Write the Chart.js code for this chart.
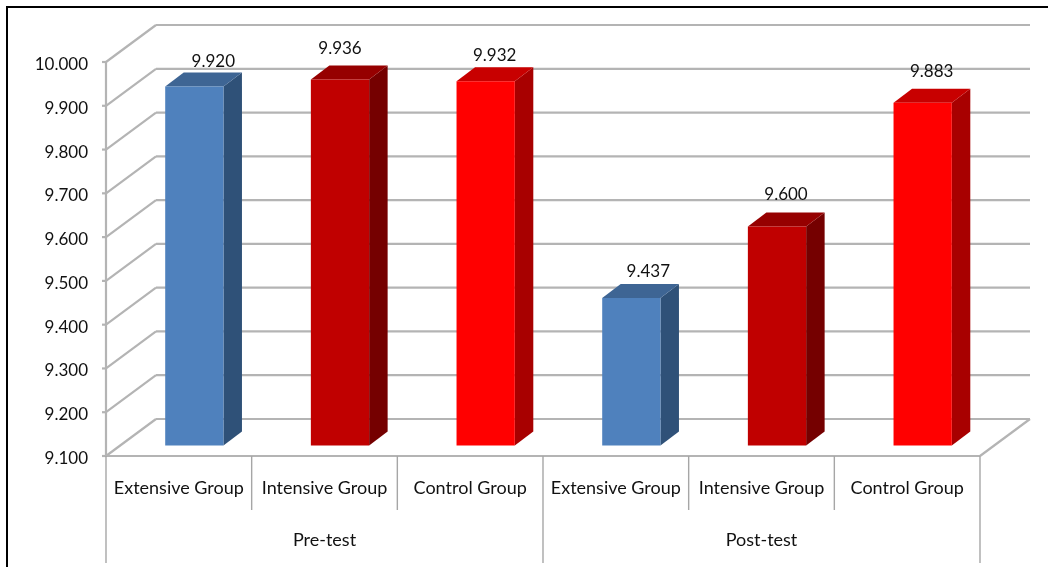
<!DOCTYPE html>
<html>
<head>
<meta charset="utf-8">
<title>Pre-test and post-test scores</title>
<script src="https://cdn.jsdelivr.net/npm/chart.js@4"></script>
<style>
  html, body { margin: 0; background: #fff; }
  canvas { display: block; }
</style>
</head>
<body>
<canvas id="scoreChart" width="1048" height="567"></canvas>
<script>
var categories = ["Extensive Group", "Intensive Group", "Control Group", "Extensive Group", "Intensive Group", "Control Group"];
var groups = ["Pre-test", "Post-test"];
var scores = [9.920, 9.936, 9.932, 9.437, 9.600, 9.883];
var axisMin = 9.1;
var axisMax = 10;

var frontColors = ["#4f81bd", "#c00000", "#ff0000", "#4f81bd", "#c00000", "#ff0000"];
var topColors = ["#3e6594", "#960000", "#c80000", "#3e6594", "#960000", "#c80000"];
var sideColors = ["#2f5178", "#750000", "#a80000", "#2f5178", "#750000", "#a80000"];

// nudges for the value labels, measured from the bar's top centre
var labelDx = [19, 0, 9, 17, 9, 9];
var labelDy = [-25, -31, -26, -26, -32, -31];

var textFont = { family: "Lato", size: 17 };
var axisFont = { family: "Lato", size: 18 };
var lineGrey = "#b4b4b4";
var wallDepth = { x: 50, y: -37 };   // back wall relative to the front plane
var barShift = { x: 15.5, y: -10.5 };  // bars stand part way into the floor
var barDepth = { x: 18.5, y: -14 };

function poly(ctx, pts, fill) {
  ctx.beginPath();
  ctx.moveTo(pts[0][0], pts[0][1]);
  for (var i = 1; i < pts.length; i++) ctx.lineTo(pts[i][0], pts[i][1]);
  ctx.closePath();
  ctx.fillStyle = fill;
  ctx.fill();
}

function segment(ctx, x1, y1, x2, y2) {
  ctx.beginPath();
  ctx.moveTo(x1, y1);
  ctx.lineTo(x2, y2);
  ctx.stroke();
}

var box3d = {
  id: "box3d",
  // frame, walls, floor and the axis separators
  beforeDatasetsDraw: function (chart) {
    var ctx = chart.ctx, area = chart.chartArea;
    var xs = chart.scales.x, ys = chart.scales.y;

    ctx.save();
    ctx.fillStyle = "#000";
    ctx.fillRect(6, 6, chart.width - 6, 2);
    ctx.fillRect(6, 6, 2, chart.height - 6);

    ctx.strokeStyle = lineGrey;
    ctx.lineWidth = 2.2;
    ys.ticks.forEach(function (t) {
      var y = ys.getPixelForValue(t.value);
      segment(ctx, area.left - 4, y, area.left, y);
      segment(ctx, area.left, y, area.left + wallDepth.x, y + wallDepth.y);
      segment(ctx, area.left + wallDepth.x, y + wallDepth.y, area.right + wallDepth.x, y + wallDepth.y);
    });
    segment(ctx, area.left, area.top, area.left, area.bottom);
    segment(ctx, area.left, area.bottom, area.right, area.bottom);
    segment(ctx, area.right, area.bottom, area.right + wallDepth.x, area.bottom + wallDepth.y);

    // separators below the floor: short ones per category, long ones per group
    ctx.strokeStyle = "#a6a6a6";
    ctx.lineWidth = 1.4;
    for (var i = 0; i <= categories.length; i++) {
      var x = i < categories.length ? xs.getPixelForValue(i) - xs.width / categories.length / 2 : area.right;
      var long = i % 3 === 0;
      segment(ctx, x, area.bottom, x, long ? area.bottom + 107 : area.bottom + 54);
    }
    ctx.restore();
  },
  // top and side faces go under the front face the library draws
  beforeDatasetDraw: function (chart, args) {
    var ctx = chart.ctx;
    ctx.save();
    ctx.translate(barShift.x, barShift.y);
    args.meta.data.forEach(function (bar, i) {
      var l = bar.x - bar.width / 2, r = bar.x + bar.width / 2;
      var dx = barDepth.x, dy = barDepth.y;
      poly(ctx, [[r, bar.y], [r + dx, bar.y + dy], [r + dx, bar.base + dy], [r, bar.base]], sideColors[i]);
      poly(ctx, [[l, bar.y], [l + dx, bar.y + dy], [r + dx, bar.y + dy], [r, bar.y]], topColors[i]);
    });
  },
  afterDatasetDraw: function (chart, args) {
    var ctx = chart.ctx;
    ctx.restore();
    ctx.save();
    ctx.fillStyle = "#111";
    ctx.font = textFont.size + "px " + textFont.family;
    ctx.textAlign = "center";
    ctx.textBaseline = "middle";
    args.meta.data.forEach(function (bar, i) {
      ctx.fillText(scores[i].toFixed(3), bar.x + barShift.x + labelDx[i], bar.y + barShift.y + labelDy[i]);
    });
    ctx.restore();
  }
};

new Chart("scoreChart", {
  type: "bar",
  data: {
    labels: categories,
    datasets: [{
      data: scores,
      base: axisMin,
      backgroundColor: frontColors,
      barPercentage: 0.4,
      categoryPercentage: 1,
      clip: false
    }]
  },
  options: {
    responsive: false,
    animation: false,
    layout: { padding: { top: 62, right: 68, left: 0, bottom: 0 } },
    plugins: {
      legend: { display: false },
      title: { display: false },
      tooltip: { enabled: false }
    },
    scales: {
      x: {
        grid: { display: false },
        border: { display: false },
        ticks: { color: "#111", font: axisFont, padding: 13, maxRotation: 0, autoSkip: false },
        afterFit: function (scale) { scale.height = 54; }
      },
      xGroup: {
        type: "category",
        axis: "x",
        position: "bottom",
        labels: groups,
        offset: true,
        grid: { display: false },
        border: { display: false },
        ticks: { color: "#111", font: axisFont, padding: 11.5, maxRotation: 0 },
        afterFit: function (scale) { scale.height = 57; }
      },
      y: {
        min: axisMin,
        max: axisMax,
        grid: { display: false, drawTicks: false },
        border: { display: false },
        ticks: {
          stepSize: 0.1,
          color: "#111",
          font: textFont,
          padding: 18,
          labelOffset: 2.5,
          callback: function (value) { return value.toFixed(3); }
        },
        afterFit: function (scale) { scale.width = 106; }
      }
    }
  },
  plugins: [box3d]
});
</script>
</body>
</html>
